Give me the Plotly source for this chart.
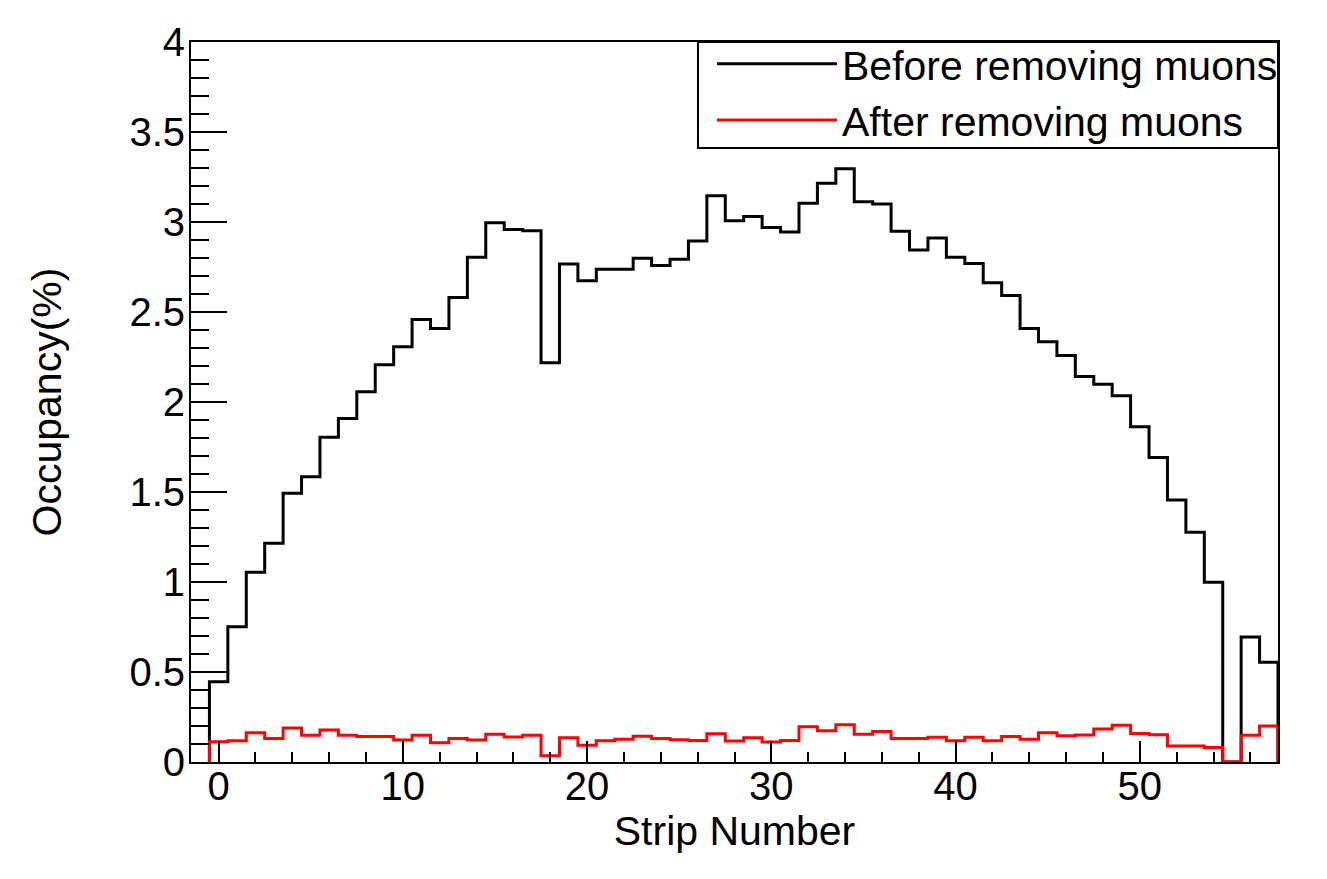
import plotly.graph_objects as go

# Strip numbers (bin centers) and occupancies (%)
strips = list(range(0, 58))

before_muons = [
    0.446, 0.752, 1.054, 1.215, 1.493, 1.585, 1.804, 1.909, 2.057, 2.207,
    2.307, 2.459, 2.409, 2.581, 2.804, 2.996, 2.959, 2.952, 2.218, 2.767,
    2.674, 2.737, 2.737, 2.798, 2.759, 2.793, 2.894, 3.146, 3.007, 3.031,
    2.969, 2.944, 3.104, 3.215, 3.296, 3.113, 3.100, 2.948, 2.844, 2.911,
    2.804, 2.770, 2.663, 2.591, 2.409, 2.335, 2.259, 2.141, 2.098, 2.035,
    1.863, 1.691, 1.456, 1.276, 0.998, 0.000, 0.694, 0.554,
]

after_muons = [
    0.113, 0.118, 0.163, 0.130, 0.189, 0.148, 0.178, 0.148, 0.141, 0.141,
    0.122, 0.148, 0.107, 0.130, 0.122, 0.154, 0.139, 0.148, 0.035, 0.135,
    0.093, 0.118, 0.126, 0.143, 0.130, 0.124, 0.120, 0.157, 0.117, 0.135,
    0.111, 0.120, 0.196, 0.174, 0.207, 0.154, 0.169, 0.130, 0.130, 0.137,
    0.118, 0.137, 0.118, 0.141, 0.126, 0.163, 0.146, 0.150, 0.183, 0.204,
    0.159, 0.152, 0.089, 0.089, 0.081, 0.000, 0.148, 0.200,
]

series_names = ["Before removing muons", "After removing muons"]
series_colors = ["#000000", "#ff0000"]

x_tick_vals = [0, 10, 20, 30, 40, 50]
y_tick_vals = [0, 0.5, 1, 1.5, 2, 2.5, 3, 3.5, 4]


def step_outline(centers, values, width=1.0):
    edges = [c - width / 2 for c in centers] + [centers[-1] + width / 2]
    xs = [edges[0]] + edges
    ys = [0] + list(values) + [0]
    return xs, ys


FONT = "Liberation Sans, Arial, Helvetica, sans-serif"

fig = go.Figure()
for vals, name, col in zip([before_muons, after_muons], series_names, series_colors):
    xs, ys = step_outline(strips, vals)
    fig.add_trace(go.Scatter(
        x=xs, y=ys, mode="lines", name=name,
        line=dict(color=col, width=3, shape="hv"),
        hoverinfo="skip",
    ))

# legend frame (ROOT TLegend style box)
fig.add_shape(
    type="rect", xref="paper", yref="paper",
    x0=0.4664, x1=1.0, y0=0.8528, y1=1.0,
    line=dict(color="black", width=2), fillcolor="white", layer="below",
)

fig.update_layout(
    width=1327, height=879,
    margin=dict(l=183, r=57, t=34, b=125),
    paper_bgcolor="white", plot_bgcolor="white",
    font=dict(family=FONT, size=40, color="black"),
    showlegend=True,
    legend=dict(
        x=0.4793, y=1.016, xanchor="left", yanchor="top",
        bgcolor="rgba(0,0,0,0)", borderwidth=0,
        font=dict(family=FONT, size=41, color="black"),
        itemwidth=120, tracegroupgap=0,
    ),
    xaxis=dict(
        range=[-1.5, 57.5], tickmode="array", tickvals=x_tick_vals,
        ticks="inside", ticklen=21, tickwidth=2, tickcolor="black",
        minor=dict(dtick=2, tick0=0, ticks="inside", ticklen=10, tickwidth=2, tickcolor="black"),
        showline=True, linewidth=2, linecolor="black", mirror=True,
        showgrid=False, zeroline=False,
        tickfont=dict(size=40), ticklabelstandoff=-12,
        title=dict(text="Strip Number", font=dict(size=41), standoff=6),
    ),
    yaxis=dict(
        range=[0, 4], tickmode="array", tickvals=y_tick_vals,
        ticks="inside", ticklen=36, tickwidth=2, tickcolor="black",
        minor=dict(dtick=0.1, tick0=0, ticks="inside", ticklen=18, tickwidth=2, tickcolor="black"),
        showline=True, linewidth=2, linecolor="black", mirror=True,
        showgrid=False, zeroline=False,
        tickfont=dict(size=40), ticklabelstandoff=-4,
        title=dict(text="Occupancy(%)", font=dict(size=41), standoff=55),
    ),
)

fig.write_html("out.html")
